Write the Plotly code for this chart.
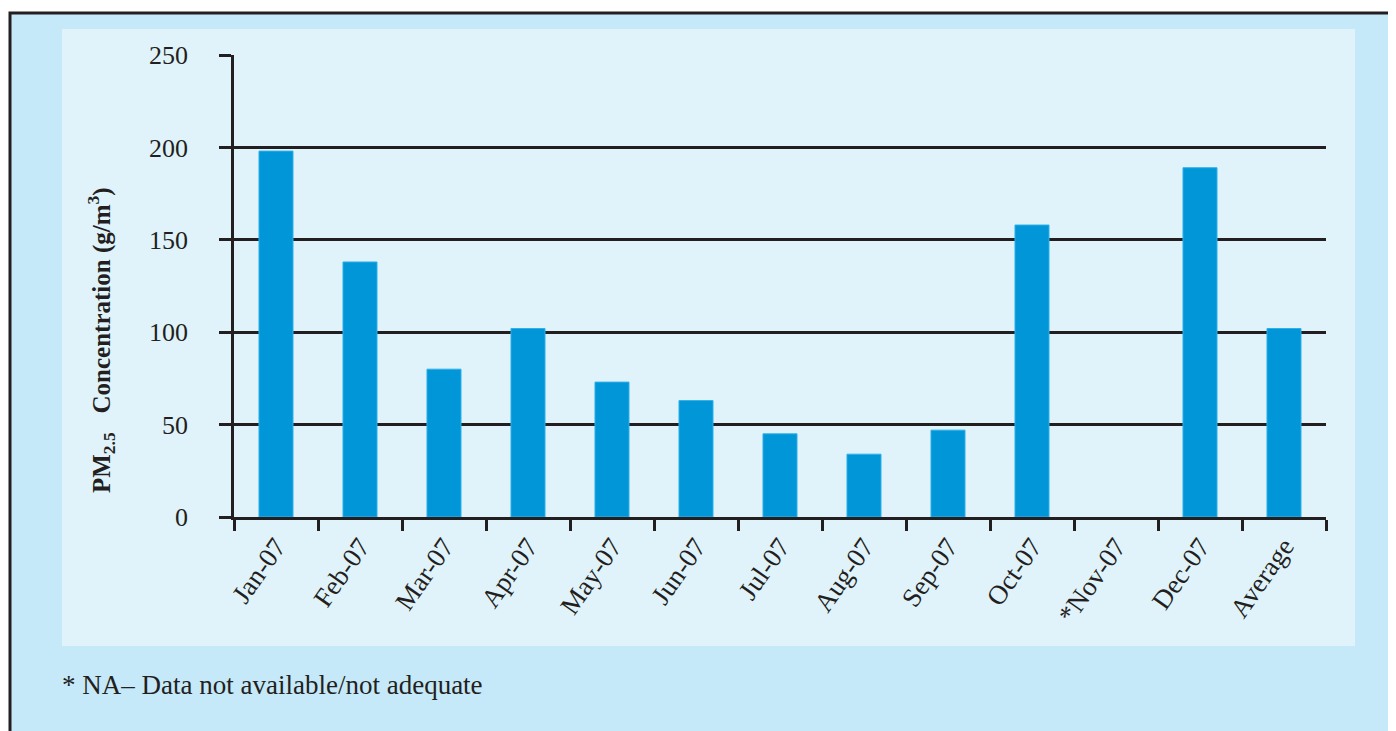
import plotly.graph_objects as go

categories = ["Jan-07", "Feb-07", "Mar-07", "Apr-07", "May-07", "Jun-07", "Jul-07",
              "Aug-07", "Sep-07", "Oct-07", "*Nov-07", "Dec-07", "Average"]
pm25 = [198, 138, 80, 102, 73, 63, 45, 34, 47, 158, None, 189, 102]
y_ticks = [0, 50, 100, 150, 200, 250]

W, H = 1396, 731
OFF = 8  # page body margin
L, R, T, B = 234 - OFF, 1326 - OFF, 55 - OFF, 517 - OFF
pw, ph = R - L, B - T

def px(x):
    return (x - OFF - L) / pw

def py(y):
    return (B - (y - OFF)) / ph

FONT = "Liberation Serif"
INK = "#231f20"

fig = go.Figure()
fig.add_trace(go.Bar(
    x=categories, y=pm25,
    marker=dict(color="#0096d8", line=dict(color="#2fb0e8", width=1)),
    showlegend=False,
))

fig.update_layout(
    width=W, height=H,
    margin=dict(l=L, r=W - R, t=T, b=H - B),
    paper_bgcolor="white",
    plot_bgcolor="rgba(0,0,0,0)",
    bargap=0.595,
    font=dict(family=FONT, size=26, color=INK),
    shapes=[
        dict(type="rect", xref="paper", yref="paper",
             x0=px(10), x1=px(1410), y0=py(745), y1=py(13),
             fillcolor="#c6e9f9", line=dict(color=INK, width=3), layer="below"),
        dict(type="rect", xref="paper", yref="paper",
             x0=px(62), x1=px(1355), y0=py(646), y1=py(29),
             fillcolor="#e0f3fb", line=dict(width=0), layer="below"),
    ],
    annotations=[
        dict(text="<b>PM<sub>2.5</sub>   Concentration (g/m<sup>3</sup>)</b>",
             xref="paper", yref="paper", x=px(101), y=py(340),
             textangle=-90, showarrow=False, xanchor="center", yanchor="middle",
             font=dict(family=FONT, size=25, color=INK)),
        dict(text="* NA\u2013 Data not available/not adequate",
             xref="paper", yref="paper", x=px(60), y=py(685),
             showarrow=False, xanchor="left", yanchor="middle",
             font=dict(family=FONT, size=27, color=INK)),
    ],
)

fig.update_xaxes(
    type="category",
    tickson="boundaries",
    ticks="outside", ticklen=11, tickwidth=2.5, tickcolor=INK,
    showline=True, linecolor=INK, linewidth=2.5,
    showgrid=False,
    tickangle=-55,
    tickfont=dict(family=FONT, size=27, color=INK),
)
fig.update_yaxes(
    range=[0, 250],
    tickvals=y_ticks,
    ticks="outside", ticklen=12, tickwidth=2.5, tickcolor=INK,
    showline=True, linecolor=INK, linewidth=2.5,
    showgrid=True, gridcolor=INK, gridwidth=2.5,
    zeroline=False,
    ticklabelstandoff=26,
    tickfont=dict(family=FONT, size=26, color=INK),
)

fig.write_html("out.html")
